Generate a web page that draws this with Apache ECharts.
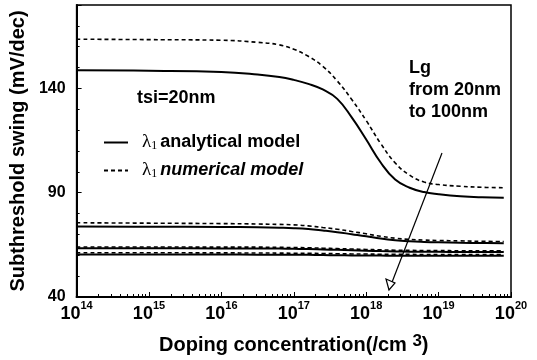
<!DOCTYPE html>
<html>
<head>
<meta charset="utf-8">
<script src="https://cdn.jsdelivr.net/npm/echarts@6/dist/echarts.min.js"></script>
<style>
html,body{margin:0;padding:0;background:#fff;}
#chart{width:537px;height:360px;}
</style>
</head>
<body>
<div id="chart"></div>
<script>
// Doping concentration exponents (x = 10^exp, /cm^3)
const dopingExp = [14, 15, 16, 16.5, 16.8, 17.0, 17.2, 17.4, 17.6, 17.8, 18.0, 18.2, 18.4, 18.6, 18.8, 19.0, 19.3, 19.6, 19.9];

// Subthreshold swing (mV/dec), four gate lengths (Lg 20nm ... 100nm)
const analyticalLg1 = [148.7, 148.5, 147.9, 146.7, 145.5, 144.1, 142.2, 139.5, 135.0, 126.1, 115.5, 104.5, 96.3, 92.4, 90.3, 89.3, 88.3, 87.8, 87.6];
const numericalLg1  = [163.6, 163.4, 163.1, 162.1, 160.9, 158.8, 155.4, 150.6, 143.6, 134.7, 124.6, 113.6, 104.3, 98.4, 95.1, 93.9, 93.1, 92.6, 92.4];
const analyticalLg2 = [73.8, 73.7, 73.6, 73.4, 73.2, 73.0, 72.6, 71.9, 71.1, 70.1, 69.1, 68.0, 67.2, 66.7, 66.4, 66.2, 66.0, 65.9, 65.8];
const numericalLg2  = [75.6, 75.4, 75.2, 75.0, 74.8, 74.6, 74.1, 73.3, 72.5, 71.4, 70.3, 69.1, 68.2, 67.6, 67.3, 67.1, 66.9, 66.7, 66.6];
const analyticalLg3 = [63.4, 63.4, 63.3, 63.3, 63.2, 63.1, 63.0, 62.8, 62.6, 62.4, 62.2, 62.0, 61.85, 61.75, 61.7, 61.65, 61.6, 61.6, 61.6];
const numericalLg3  = [64.0, 64.0, 63.9, 63.9, 63.8, 63.7, 63.6, 63.4, 63.2, 63.0, 62.8, 62.6, 62.45, 62.35, 62.3, 62.25, 62.2, 62.2, 62.2];
const analyticalLg4 = [60.4, 60.4, 60.35, 60.3, 60.3, 60.25, 60.2, 60.1, 60.0, 59.95, 59.9, 59.85, 59.8, 59.8, 59.8, 59.8, 59.8, 59.8, 59.8];
const numericalLg4  = [61.2, 61.2, 61.15, 61.1, 61.05, 61.0, 60.95, 60.85, 60.75, 60.65, 60.6, 60.5, 60.45, 60.42, 60.4, 60.4, 60.4, 60.4, 60.4];

const yTicks = [40, 90, 140];
const xTickExps = [14, 15, 16, 17, 18, 19, 20];

const FONT = '"Liberation Sans", Arial, sans-serif';
const SERIF = '"Liberation Serif", "DejaVu Serif", serif';

function pairs(vals) {
  return dopingExp.map((e, i) => [Math.pow(10, e), vals[i]]);
}

function solid(vals) {
  return {
    name: 'analytical', type: 'line', data: pairs(vals), symbol: 'none',
    smooth: 0.45,
    lineStyle: { color: '#000', width: 2, type: 'solid' },
    itemStyle: { color: '#000' }, z: 3
  };
}
function dashed(vals) {
  return {
    name: 'numerical', type: 'line', data: pairs(vals), symbol: 'none',
    smooth: 0.45,
    lineStyle: { color: '#000', width: 1.6, type: [4, 3] },
    itemStyle: { color: '#000' }, z: 4
  };
}

const chart = echarts.init(document.getElementById('chart'), null, { renderer: 'canvas' });

chart.setOption({
  animation: false,
  backgroundColor: '#fff',
  grid: { left: 72, right: 26, top: 5, bottom: 63, show: true, borderColor: '#000', borderWidth: 1.5, backgroundColor: 'transparent' },
  xAxis: {
    type: 'log', logBase: 10, min: Math.pow(10, xTickExps[0]), max: Math.pow(10, xTickExps[xTickExps.length - 1]),
    splitNumber: 6,
    axisLine: { show: true, lineStyle: { color: '#000', width: 2 } },
    axisTick: { show: true, inside: true, length: 5, lineStyle: { color: '#000', width: 1 } },
    minorTick: { show: true, splitNumber: 9, length: 3, lineStyle: { color: '#000', width: 1 } },
    splitLine: { show: false },
    axisLabel: {
      margin: 3,
      formatter: function (v) { return '{b|10}{s|' + Math.round(Math.log10(v)) + '}'; },
      rich: {
        b: { fontFamily: FONT, fontWeight: 'bold', fontSize: 18, color: '#000', lineHeight: 28 },
        s: { fontFamily: FONT, fontWeight: 'bold', fontSize: 11, color: '#000', lineHeight: 12, verticalAlign: 'top' }
      }
    },
    name: '{a|Doping concentration(/cm }{s|3}{a|)}',
    nameLocation: 'middle', nameGap: 36,
    nameTextStyle: {
      rich: {
        a: { fontFamily: FONT, fontWeight: 'bold', fontSize: 20, color: '#000', lineHeight: 24 },
        s: { fontFamily: FONT, fontWeight: 'bold', fontSize: 17, color: '#000', lineHeight: 18, verticalAlign: 'top' }
      }
    }
  },
  yAxis: {
    type: 'value', min: yTicks[0], max: 180, interval: yTicks[1] - yTicks[0],
    axisLine: { show: true, lineStyle: { color: '#000', width: 2 } },
    axisTick: { show: true, inside: true, length: 5, lineStyle: { color: '#000', width: 1 } },
    minorTick: { show: true, splitNumber: 5, length: 3, lineStyle: { color: '#000', width: 1 } },
    splitLine: { show: false },
    axisLabel: { showMaxLabel: false, margin: 11, fontFamily: FONT, fontWeight: 'bold', fontSize: 16, color: '#000' },
    name: 'Subthreshold swing (mV/dec)',
    nameLocation: 'middle', nameGap: 30,
    nameTextStyle: { fontFamily: FONT, fontWeight: 'bold', fontSize: 20, color: '#000' }
  },
  legend: {
    show: true, orient: 'vertical', left: 98, top: 128, itemGap: 9,
    itemWidth: 24, itemHeight: 18,
    itemStyle: { opacity: 0 },
    data: ['analytical', 'numerical'],
    formatter: function (n) {
      return n === 'analytical'
        ? '{l|λ}{sub|1}{t|analytical model}'
        : '{l|λ}{sub|1}{ti|numerical model}';
    },
    textStyle: {
      rich: {
        l: { fontFamily: SERIF, fontSize: 19, color: '#000', padding: [0, 0, 0, 9] },
        sub: { fontFamily: SERIF, fontSize: 12, color: '#000', verticalAlign: 'bottom', padding: [0, 3, 0, 0] },
        t: { fontFamily: FONT, fontWeight: 'bold', fontSize: 18, color: '#000' },
        ti: { fontFamily: FONT, fontWeight: 'bold', fontStyle: 'italic', fontSize: 18, color: '#000' }
      }
    }
  },
  graphic: [
    { type: 'text', left: 137, top: 89, style: { text: 'tsi=20nm', fontFamily: FONT, fontWeight: 'bold', fontSize: 18, fill: '#000' } },
    { type: 'text', left: 409, top: 57, style: { text: 'Lg\nfrom 20nm\nto 100nm', fontFamily: FONT, fontWeight: 'bold', fontSize: 18, lineHeight: 22, fill: '#000' } },
    { type: 'line', shape: { x1: 442, y1: 153, x2: 389, y2: 290 }, style: { stroke: '#000', lineWidth: 1.2 } },
    { type: 'polygon', shape: { points: [[389, 290], [386, 279], [395, 283]] }, style: { stroke: '#000', fill: '#fff', lineWidth: 1.2 } }
  ],
  series: [
    solid(analyticalLg1), dashed(numericalLg1),
    solid(analyticalLg2), dashed(numericalLg2),
    solid(analyticalLg3), dashed(numericalLg3),
    solid(analyticalLg4), dashed(numericalLg4)
  ]
});
</script>
</body>
</html>
